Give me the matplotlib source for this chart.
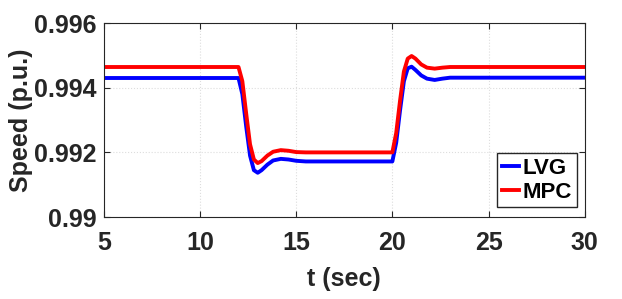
import numpy as np
import matplotlib.pyplot as plt

plt.rcParams['font.family'] = ['Liberation Sans', 'DejaVu Sans']
plt.rcParams['font.weight'] = 'bold'

# Hand-read values from the reference
t = [5, 12.0, 12.2, 12.4, 12.6, 12.8, 13.0, 13.2, 13.5, 13.8, 14.2, 14.6, 15.0, 15.5,
     20.0, 20.2, 20.4, 20.6, 20.8, 21.0, 21.2, 21.5, 21.8, 22.2, 22.6, 23.0, 24, 30]
lvg = [0.99430, 0.99430, 0.99380, 0.99280, 0.99190, 0.99145, 0.99137, 0.99145, 0.99162,
       0.99175, 0.99180, 0.99178, 0.99174, 0.99172, 0.99172, 0.99230, 0.99330, 0.99420,
       0.99460, 0.99465, 0.99455, 0.99438, 0.99428, 0.99424, 0.99428, 0.99431, 0.99431,
       0.99431]
mpc = [0.99464, 0.99464, 0.99420, 0.99320, 0.99225, 0.99178, 0.99167, 0.99173, 0.99190,
       0.99202, 0.99207, 0.99205, 0.99201, 0.99200, 0.99200, 0.99260, 0.99360, 0.99450,
       0.99490, 0.99498, 0.99490, 0.99472, 0.99462, 0.99459, 0.99462, 0.99464, 0.99464,
       0.99464]

fig = plt.figure(figsize=(6.22, 2.99), dpi=100)
ax = fig.add_axes([0.167, 0.274, 0.773, 0.649])
ax.plot(t, lvg, color='#0000ff', lw=2.8, label='LVG')
ax.plot(t, mpc, color='#ff0000', lw=2.8, label='MPC')

ax.set_xlim(5, 30)
ax.set_ylim(0.99, 0.996)
ax.set_xticks([5, 10, 15, 20, 25, 30])
ax.set_yticks([0.99, 0.992, 0.994, 0.996])
ax.set_yticklabels(['0.99', '0.992', '0.994', '0.996'])
ax.tick_params(direction='in', labelsize=18, top=True, right=True, length=4, colors='#262626')
ax.tick_params(axis='x', pad=10)
ax.tick_params(axis='y', pad=5)
ax.grid(True, color='#dddddd', linestyle=':', linewidth=0.8)
for s in ax.spines.values():
    s.set_color('#262626')
ax.set_xlabel('t (sec)', fontsize=18, fontweight='bold', color='#262626', labelpad=9)
ax.set_ylabel('Speed (p.u.)', fontsize=18, fontweight='bold', color='#262626', labelpad=1)

leg = ax.legend(loc='lower right', fontsize=16, handlelength=0.8, handletextpad=0.15,
                borderpad=0.2, labelspacing=0.15, fancybox=False, edgecolor='#262626',
                framealpha=1, bbox_to_anchor=(0.983, 0.05), borderaxespad=0)
leg.get_frame().set_linewidth(1.0)

plt.savefig('out.png', dpi=100)
